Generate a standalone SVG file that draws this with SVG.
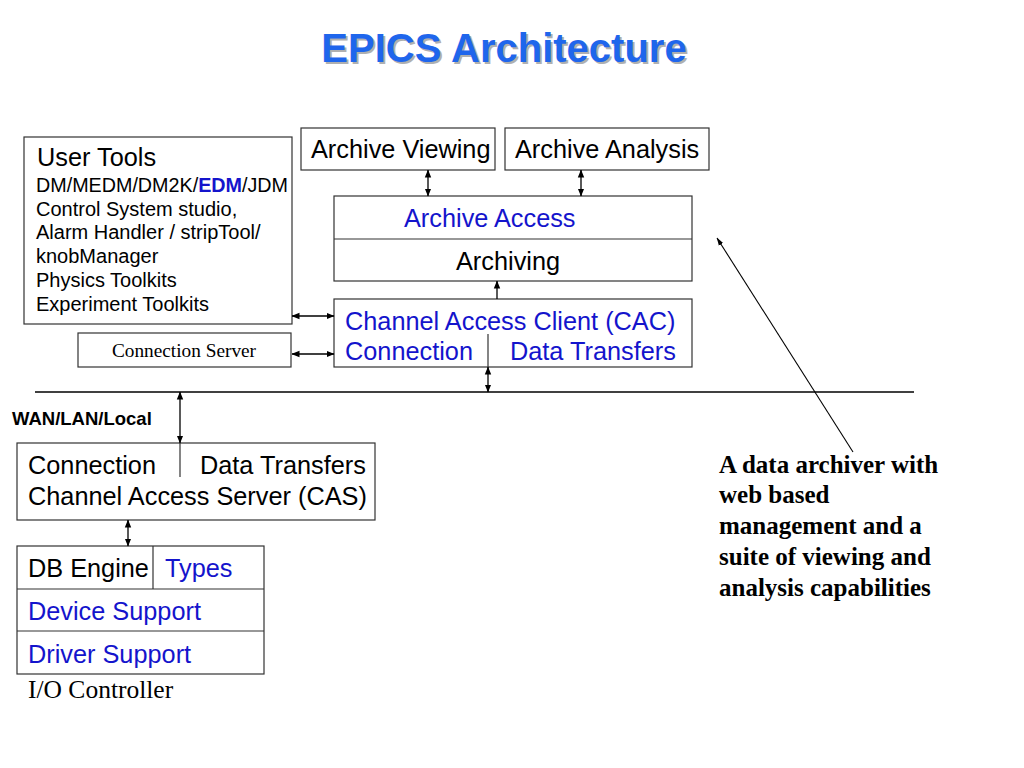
<svg xmlns="http://www.w3.org/2000/svg" width="1024" height="768" viewBox="0 0 1024 768">
<defs>
<marker id="ah" markerUnits="userSpaceOnUse" markerWidth="8" markerHeight="8" viewBox="0 0 8 8" refX="7.5" refY="4" orient="auto-start-reverse">
<path d="M0,0.8 L8,4 L0,7.2 Z" fill="#000"/>
</marker>
<marker id="ah2" markerUnits="userSpaceOnUse" markerWidth="8" markerHeight="8" viewBox="0 0 8 8" refX="7.5" refY="4" orient="auto">
<path d="M0,1.5 L8,4 L0,6.5 Z" fill="#000"/>
</marker>
<style>
.box{fill:#fff;stroke:#333;stroke-width:1.2}
.div{stroke:#333;stroke-width:1.2;fill:none}
.t{font-family:"Liberation Sans",Arial,sans-serif;font-size:25.3px;fill:#000}
.b{fill:#1414cc}
.s{font-family:"Liberation Sans",Arial,sans-serif;font-size:20px;fill:#000}
.sr{font-family:"Liberation Serif","Times New Roman",serif;fill:#000}
.con{stroke:#000;stroke-width:1.3;fill:none;marker-start:url(#ah);marker-end:url(#ah)}
</style>
</defs>
<rect width="1024" height="768" fill="#fff"/>

<g id="title">
<text x="506" y="64" text-anchor="middle" font-family="'Liberation Sans',Arial,sans-serif" font-weight="bold" font-size="40" fill="#b0b0b0">EPICS Architecture</text>
<text x="504" y="62" text-anchor="middle" font-family="'Liberation Sans',Arial,sans-serif" font-weight="bold" font-size="40" fill="#1f66ec">EPICS Architecture</text>
</g>

<g id="user-tools">
<rect class="box" x="24" y="137" width="268" height="187"/>
<text class="t" x="37" y="166" font-size="24">User Tools</text>
<text class="s" x="36" y="192" textLength="252" lengthAdjust="spacingAndGlyphs">DM/MEDM/DM2K/<tspan font-weight="bold" fill="#1414cc">EDM</tspan>/JDM</text>
<text class="s" x="36" y="216">Control System studio,</text>
<text class="s" x="36" y="239">Alarm Handler / stripTool/</text>
<text class="s" x="36" y="263">knobManager</text>
<text class="s" x="36" y="287">Physics Toolkits</text>
<text class="s" x="36" y="311">Experiment Toolkits</text>
</g>

<g id="connection-server">
<rect class="box" x="78" y="333" width="213" height="34"/>
<text class="sr" x="184" y="357" font-size="19.3" text-anchor="middle">Connection Server</text>
</g>

<g id="archive-viewing">
<rect class="box" x="301" y="128" width="194" height="42"/>
<text class="t" x="311" y="158">Archive Viewing</text>
</g>

<g id="archive-analysis">
<rect class="box" x="505" y="128" width="204" height="42"/>
<text class="t" x="515" y="158">Archive Analysis</text>
</g>

<g id="archiver">
<rect class="box" x="334" y="196" width="358" height="85"/>
<line class="div" x1="334" y1="239" x2="692" y2="239"/>
<text class="t b" x="404" y="227">Archive Access</text>
<text class="t" x="456" y="270">Archiving</text>
</g>

<g id="cac">
<rect class="box" x="334" y="299" width="358" height="68"/>
<line class="div" x1="488" y1="334" x2="488" y2="367"/>
<text class="t b" x="345" y="330">Channel Access Client (CAC)</text>
<text class="t b" x="345" y="360">Connection</text>
<text class="t b" x="510" y="360">Data Transfers</text>
</g>

<g id="network">
<line x1="35" y1="392" x2="914" y2="392" stroke="#000" stroke-width="1.3"/>
<text x="12" y="425" font-family="'Liberation Sans',Arial,sans-serif" font-weight="bold" font-size="18.5" fill="#000">WAN/LAN/Local</text>
</g>

<g id="cas">
<rect class="box" x="17" y="443" width="358" height="77"/>
<line class="div" x1="180" y1="443" x2="180" y2="477"/>
<text class="t" x="28" y="474">Connection</text>
<text class="t" x="200" y="474">Data Transfers</text>
<text class="t" x="28" y="505">Channel Access Server (CAS)</text>
</g>

<g id="ioc">
<rect class="box" x="17" y="546" width="247" height="128"/>
<line class="div" x1="17" y1="589" x2="264" y2="589"/>
<line class="div" x1="17" y1="631" x2="264" y2="631"/>
<line class="div" x1="153" y1="546" x2="153" y2="589"/>
<text class="t" x="28" y="577">DB Engine</text>
<text class="t b" x="165" y="577">Types</text>
<text class="t b" x="28" y="620">Device Support</text>
<text class="t b" x="28" y="663">Driver Support</text>
<text class="sr" x="28" y="698" font-size="25.5">I/O Controller</text>
</g>

<g id="annotation">
<text class="sr" font-size="25" font-weight="bold" x="719" y="473">A data archiver with</text>
<text class="sr" font-size="25" font-weight="bold" x="719" y="503">web based</text>
<text class="sr" font-size="25" font-weight="bold" x="719" y="534">management and a</text>
<text class="sr" font-size="25" font-weight="bold" x="719" y="565">suite of viewing and</text>
<text class="sr" font-size="25" font-weight="bold" x="719" y="596">analysis capabilities</text>
</g>

<g id="connectors">
<line class="con" x1="428" y1="170" x2="428" y2="196"/>
<line class="con" x1="581" y1="170" x2="581" y2="196"/>
<line x1="497" y1="299" x2="497" y2="281" stroke="#000" stroke-width="1.3" marker-end="url(#ah)"/>
<line class="con" x1="292" y1="316" x2="334" y2="316"/>
<line class="con" x1="292" y1="354" x2="334" y2="354"/>
<line class="con" x1="488" y1="367" x2="488" y2="392"/>
<line class="con" x1="180" y1="392" x2="180" y2="443"/>
<line class="con" x1="128" y1="520" x2="128" y2="546"/>
<line x1="853" y1="452" x2="717" y2="238" stroke="#000" stroke-width="1.1" marker-end="url(#ah2)"/>
</g>
</svg>
